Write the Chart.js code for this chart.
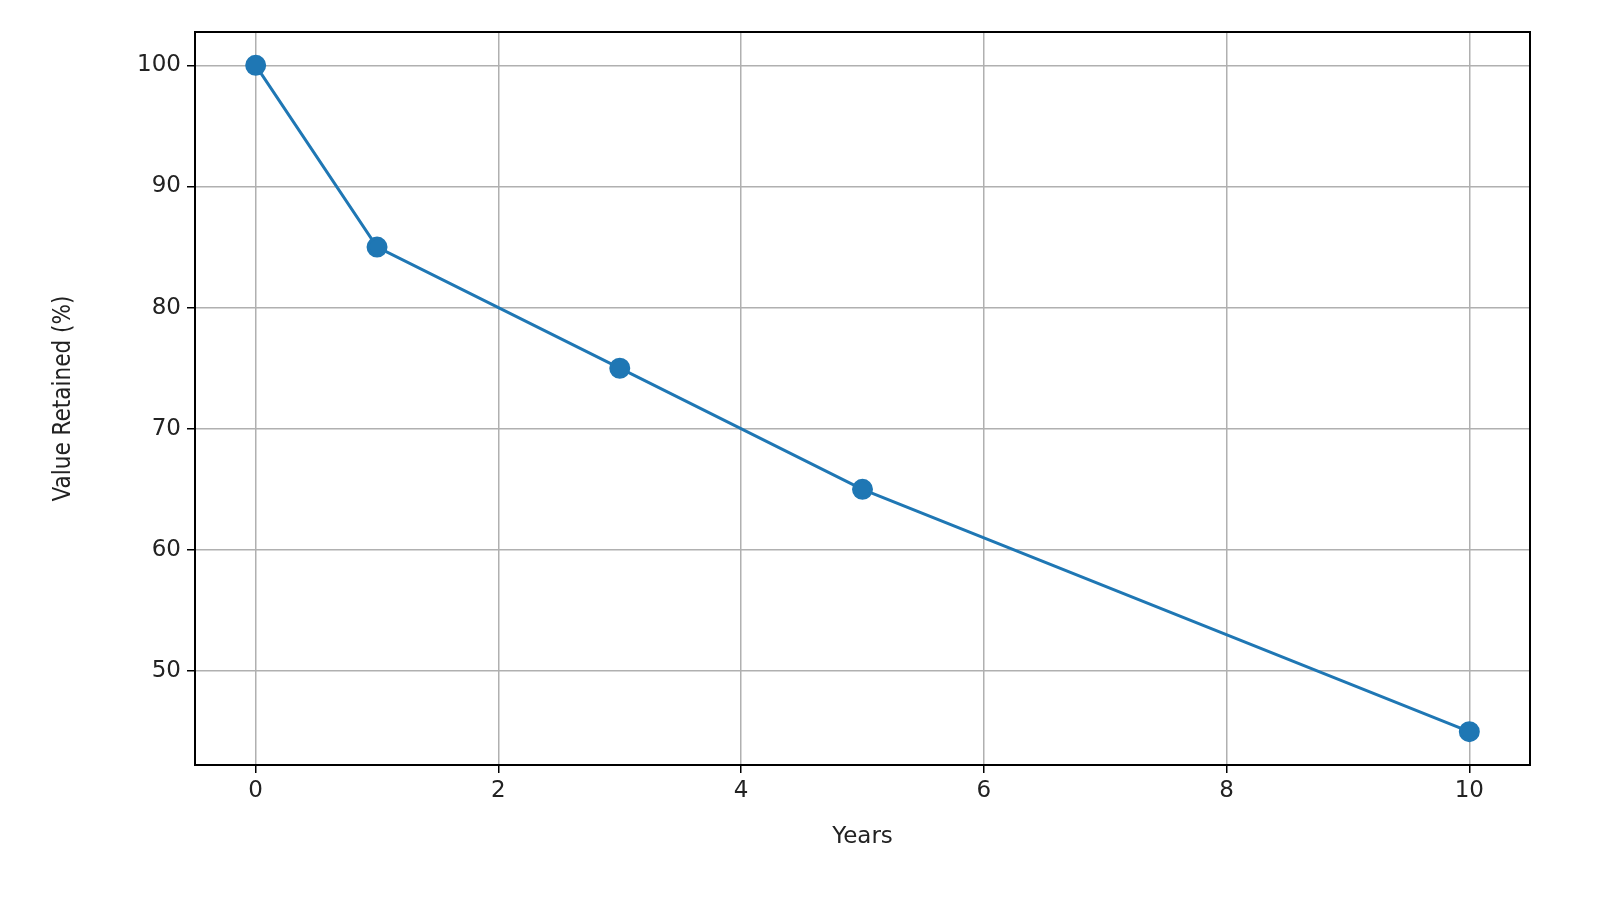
<!DOCTYPE html>
<html><head><meta charset="utf-8">
<script src="https://cdn.jsdelivr.net/npm/chart.js@4"></script>
<style>html,body{margin:0;padding:0;background:#fff;overflow:hidden}#w{width:1600px;height:900px}</style>
</head><body><div id="w"><canvas id="c"></canvas></div>
<script>
const years = [0, 1, 3, 5, 10];
const valueRetained = [100, 85, 75, 65, 45];
const xTicks = [0, 2, 4, 6, 8, 10];
const yTicks = [50, 60, 70, 80, 90, 100];
const font = {family: "DejaVu Sans", size: 23};
new Chart(document.getElementById('c'), {
  type: 'scatter',
  data: {datasets: [{
    data: years.map((x, i) => ({x, y: valueRetained[i]})),
    showLine: true, borderColor: '#1f77b4', backgroundColor: '#1f77b4',
    borderWidth: 3, pointRadius: 9, pointHoverRadius: 9
  }]},
  options: {
    responsive: true, maintainAspectRatio: false, animation: false,
    layout: {padding: {top: 32, right: 70, left: 45, bottom: 45}},
    plugins: {legend: {display: false}, tooltip: {enabled: false}},
    scales: {
      x: {min: -0.5, max: 10.5,
        afterBuildTicks: a => { a.ticks = xTicks.map(v => ({value: v})); },
        afterFit: a => { a.height = 90; },
        grid: {color: '#b0b0b0', lineWidth: 1.5, tickLength: 8, tickColor: '#000'},
        border: {color: '#000', width: 2},
        ticks: {color: '#222', font, padding: 4, maxRotation: 0},
        title: {display: true, text: 'Years', color: '#222', font, padding: {top: 4}}
      },
      y: {min: 42.25, max: 102.75,
        afterBuildTicks: a => { a.ticks = yTicks.map(v => ({value: v})); },
        afterFit: a => { a.width = 150; },
        grid: {color: '#b0b0b0', lineWidth: 1.5, tickLength: 8, tickColor: '#000'},
        border: {color: '#000', width: 2},
        ticks: {color: '#222', font, padding: 6},
        title: {display: true, text: 'Value Retained (%)', color: '#222', font: {family: "Liberation Sans Narrow, DejaVu Sans Condensed, DejaVu Sans", size: 24}}
      }
    }
  },
  plugins: [{id: 'frame', afterDraw(c) {
    const {ctx, chartArea: a} = c; ctx.save(); ctx.strokeStyle = '#000'; ctx.lineWidth = 2;
    ctx.strokeRect(a.left, a.top, a.right - a.left, a.bottom - a.top); ctx.restore();
  }}]
});
</script></body></html>
